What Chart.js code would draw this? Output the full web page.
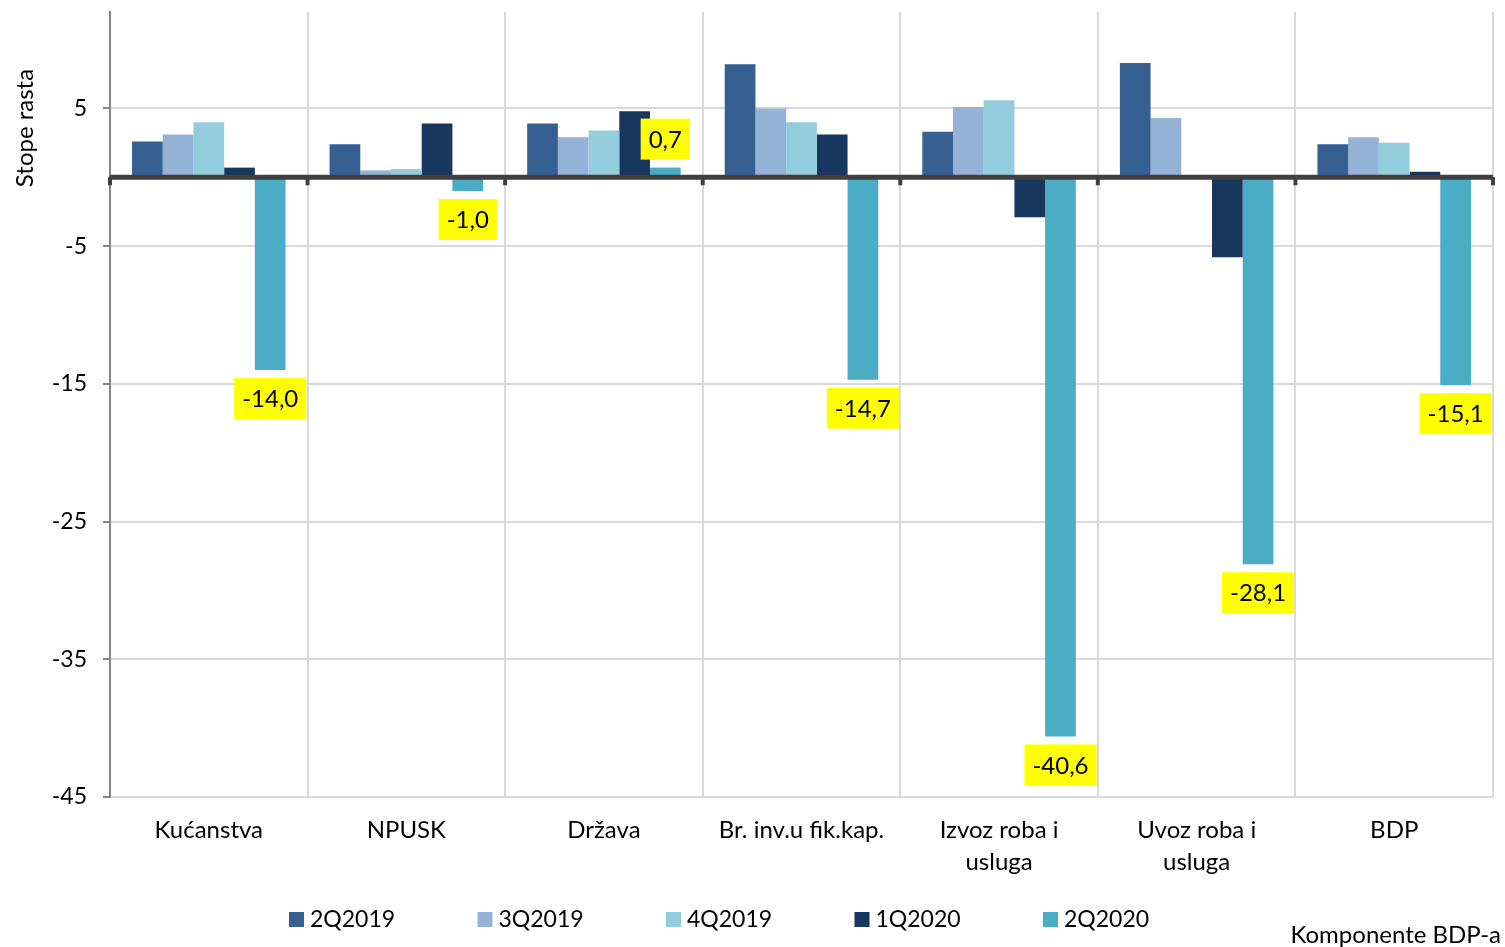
<!DOCTYPE html>
<html>
<head>
<meta charset="utf-8">
<title>Komponente BDP-a</title>
<script src="https://cdn.jsdelivr.net/npm/chart.js@4"></script>
<style>
    html, body { margin: 0; padding: 0; background: #fff; }
    canvas { display: block; }
</style>
</head>
<body>
<canvas id="gdpChart" width="1505" height="947"></canvas>
<script>
// Categories and quarterly growth rates
const categories = ['Kućanstva', 'NPUSK', 'Država', 'Br. inv.u fik.kap.', ['Izvoz roba i', 'usluga'], ['Uvoz roba i', 'usluga'], 'BDP'];
const seriesNames = ['2Q2019', '3Q2019', '4Q2019', '1Q2020', '2Q2020'];
const q2_2019 = [2.6, 2.4, 3.9, 8.2, 3.3, 8.3, 2.4];
const q3_2019 = [3.1, 0.5, 2.9, 5.0, 5.1, 4.3, 2.9];
const q4_2019 = [4.0, 0.6, 3.4, 4.0, 5.6, 0.0, 2.5];
const q1_2020 = [0.7, 3.9, 4.8, 3.1, -2.9, -5.8, 0.4];
const q2_2020 = [-14.0, -1.0, 0.7, -14.7, -40.6, -28.1, -15.1];
const yTicks = [5, -5, -15, -25, -35, -45];

const seriesColors = ['#376092', '#95b3d7', '#93cddd', '#17375e', '#4bacc6'];
const seriesData = [q2_2019, q3_2019, q4_2019, q1_2020, q2_2020];
const FONT = 'Lato, "Open Sans", sans-serif';

Chart.defaults.font.family = FONT;
Chart.defaults.font.size = 23;
Chart.defaults.color = '#000';

// thick dark line at zero with little ticks at category boundaries
const zeroLine = {
    id: 'zeroLine',
    afterDatasetsDraw(chart) {
        const { ctx, chartArea: a, scales: { y } } = chart;
        const y0 = y.getPixelForValue(0);
        const step = (a.right - a.left) / categories.length;
        ctx.save();
        ctx.fillStyle = '#404040';
        ctx.fillRect(a.left, y0 - 2.5, a.right - a.left, 5);
        for (let i = 0; i <= categories.length; i++) {
            ctx.fillRect(a.left + i * step - 2, y0, 4, 8);
        }
        ctx.restore();
    }
};

// yellow value boxes for the 2Q2020 series
const valueBoxes = {
    id: 'valueBoxes',
    afterDatasetsDraw(chart) {
        const ctx = chart.ctx;
        const meta = chart.getDatasetMeta(4);
        ctx.save();
        ctx.font = '24px ' + FONT;
        ctx.textAlign = 'center';
        ctx.textBaseline = 'middle';
        meta.data.forEach((bar, i) => {
            const v = q2_2020[i];
            const txt = v.toFixed(1).replace('.', ',');
            const w = ctx.measureText(txt).width + 16;
            const h = 41;
            const cy = v < 0 ? bar.y + 8 + h / 2 : bar.y - 8 - h / 2;
            ctx.fillStyle = '#ffff00';
            ctx.fillRect(bar.x - w / 2, cy - h / 2, w, h);
            ctx.fillStyle = '#000';
            ctx.fillText(txt, bar.x, cy + 1);
        });
        ctx.restore();
    }
};

// legend row, axis titles
const extraText = {
    id: 'extraText',
    afterDraw(chart) {
        const ctx = chart.ctx;
        ctx.save();
        ctx.font = '23px ' + FONT;
        ctx.textBaseline = 'middle';
        chart.data.datasets.forEach((ds, i) => {
            const x0 = 289 + i * 188.5;
            ctx.fillStyle = ds.backgroundColor;
            ctx.fillRect(x0, 912, 15, 15);
            ctx.fillStyle = '#000';
            ctx.textAlign = 'left';
            ctx.fillText(ds.label, x0 + 21, 920);
        });
        ctx.font = '24px ' + FONT;
        ctx.textAlign = 'right';
        ctx.fillText('Komponente BDP-a', 1501, 935);

        ctx.translate(25, 128);
        ctx.rotate(-Math.PI / 2);
        ctx.textAlign = 'center';
        ctx.fillText('Stope rasta', 0, 0);
        ctx.restore();
    }
};

new Chart(document.getElementById('gdpChart'), {
    type: 'bar',
    data: {
        labels: categories,
        datasets: seriesNames.map((name, i) => ({
            label: name,
            data: seriesData[i],
            backgroundColor: seriesColors[i],
            borderWidth: 0,
            categoryPercentage: 0.777,
            barPercentage: 1
        }))
    },
    options: {
        responsive: false,
        animation: false,
        layout: { padding: { top: 12, right: 12, bottom: 60, left: 0 } },
        plugins: {
            legend: { display: false },
            tooltip: { enabled: false }
        },
        scales: {
            x: {
                grid: { color: '#d9d9d9', lineWidth: 2, drawTicks: false, offset: true },
                border: { display: false },
                ticks: {
                    autoSkip: false,
                    maxRotation: 0,
                    padding: 17,
                    font: { size: 24, lineHeight: 1.35 }
                },
                afterFit: s => { s.height = 90; }
            },
            y: {
                min: -45,
                max: 12,
                grid: { color: '#d9d9d9', lineWidth: 2, tickLength: 7, tickColor: '#868686' },
                border: { color: '#868686', width: 2 },
                ticks: { padding: 16, font: { size: 23 } },
                afterBuildTicks: s => { s.ticks = yTicks.map(v => ({ value: v })); },
                afterFit: s => { s.width = 110; s.paddingTop = 0; s.paddingBottom = 0; }
            }
        }
    },
    plugins: [zeroLine, valueBoxes, extraText]
});
</script>
</body>
</html>
